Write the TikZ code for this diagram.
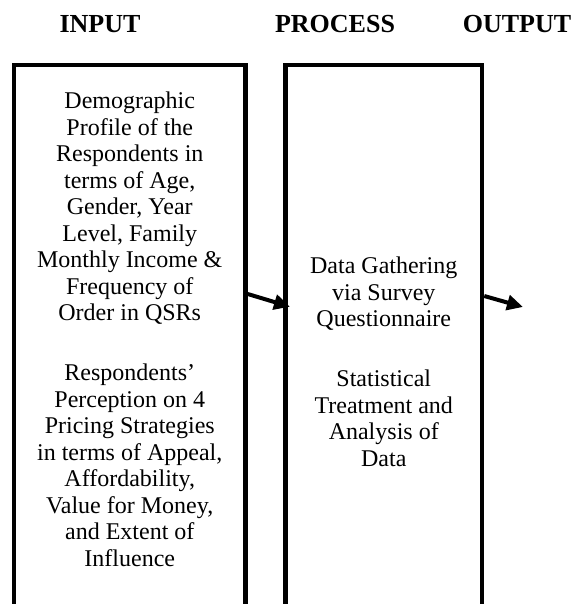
\documentclass[tikz,border=0pt]{standalone}
\usepackage{fontspec}
\setmainfont{Liberation Serif}
\usetikzlibrary{arrows.meta,positioning,calc}

\begin{document}
\begin{tikzpicture}[x=1pt,y=-1pt,
    header/.style={font=\fontsize{26}{30}\selectfont\bfseries, inner sep=0pt, anchor=base},
    colbox/.style={draw, line width=4.5pt, minimum width=#1, minimum height=640pt, anchor=north west, inner sep=0pt},
    body/.style={font=\fontsize{24}{26.5}\selectfont, align=center, inner sep=0pt, anchor=north},
    flow/.style={-{Triangle[length=16pt,width=15pt]}, line width=4pt}]
    \useasboundingbox (0,0) rectangle (574,604);

    % Headings
    \node[header] (inhead) at (100,33) {INPUT};
    \node[header] (prochead) at (335,33) {PROCESS};
    \node[header] (outhead) at (517,33) {OUTPUT};

    % Columns (open at the bottom)
    \node[colbox=231.5pt] (inbox) at (11.75,62.75) {};
    \node[colbox=196.5pt] (procbox) at (283.25,62.75) {};

    % Input text
    \node[body] (intext) at ($(inbox.north)+(0,29)$) {Demographic\\ Profile of the\\ Respondents in\\ terms of Age,\\ Gender, Year\\ Level, Family\\ Monthly Income \&\\ Frequency of\\ Order in QSRs\\[33.5pt]
      Respondents’\\ Perception on 4\\ Pricing Strategies\\ in terms of Appeal,\\ Affordability,\\ Value for Money,\\ and Extent of\\ Influence};

    % Process text
    \node[body] (proctext) at ($(procbox.north)+(0,194)$) {Data Gathering\\ via Survey\\ Questionnaire\\[33.5pt]
      Statistical\\ Treatment and\\ Analysis of\\ Data};

    % Arrows
    \coordinate (outend) at (523,307);
    \draw[flow] ([yshift=-231.25pt]inbox.north east) -- ([shift={(6.75pt,-244pt)}]procbox.north west);
    \draw[flow] ([yshift=-233.25pt]procbox.north east) -- (outend);
\end{tikzpicture}
\end{document}
